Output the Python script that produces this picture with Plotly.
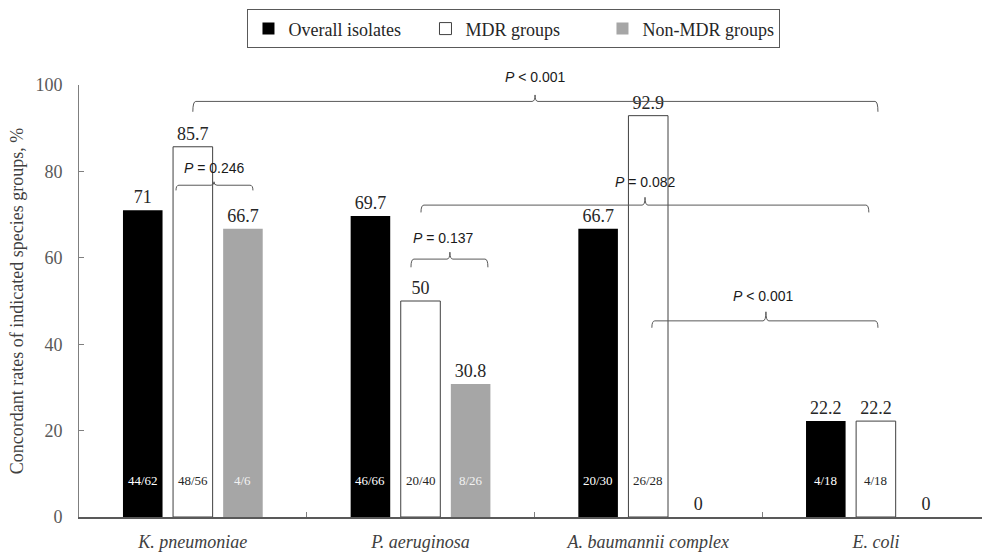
import plotly.graph_objects as go

categories = ["K. pneumoniae", "P. aeruginosa", "A. baumannii complex", "E. coli"]
overall = [71, 69.7, 66.7, 22.2]
mdr = [85.7, 50, 92.9, 22.2]
non_mdr = [66.7, 30.8, 0, 0]
overall_frac = ["44/62", "46/66", "20/30", "4/18"]
mdr_frac = ["48/56", "20/40", "26/28", "4/18"]
non_mdr_frac = ["4/6", "8/26", "", ""]
y_ticks = [0, 20, 40, 60, 80, 100]

# significance brackets: left, right, tip x, line y, end y, tip y, label, label x, label y
brackets = [
    dict(x0=0.0, x1=3.009, xt=1.503, y=96.2, ye=93.8, yt=97.7, label="<i>P</i> < 0.001", lx=1.503, ly=101.8),
    dict(x0=1.002, x1=2.969, xt=1.986, y=72.2, ye=70.5, yt=74.0, label="<i>P</i> = 0.082", lx=1.986, ly=77.6),
    dict(x0=-0.074, x1=0.264, xt=0.093, y=76.8, ye=75.6, yt=77.6, label="<i>P</i> = 0.246", lx=0.097, ly=80.9),
    dict(x0=0.958, x1=1.296, xt=1.129, y=59.7, ye=57.8, yt=61.3, label="<i>P</i> = 0.137", lx=1.099, ly=64.5),
    dict(x0=2.016, x1=3.009, xt=2.517, y=45.4, ye=43.8, yt=47.5, label="<i>P</i> < 0.001", lx=2.508, ly=51.2),
]

SERIF = "Liberation Serif"
SANS = "Liberation Sans"
x = list(range(len(categories)))
BARGAP = 0.34
slot = (1 - BARGAP) / 3


def fmt(v):
    return f"{v:g}"


fig = go.Figure()
series = [
    ("Overall isolates", overall, "#000000", "#000000", 0),
    ("MDR groups", mdr, "#ffffff", "#404040", 1),
    ("Non-MDR groups", non_mdr, "#a6a6a6", "#a6a6a6", 0),
]
for name, vals, fill, line, lw in series:
    fig.add_trace(go.Bar(
        x=x, y=vals, name=name,
        marker=dict(color=fill, line=dict(color=line, width=lw)),
        text=[fmt(v) for v in vals], textposition="outside",
        textfont=dict(family=SERIF, size=18, color="#262626"),
        constraintext="none", cliponaxis=False,
    ))

annotations = []
frac_sets = [(overall_frac, "#ffffff"), (mdr_frac, "#262626"), (non_mdr_frac, "#f2f2f2")]
for k, (fr, col) in enumerate(frac_sets):
    for i, t in enumerate(fr):
        if t:
            annotations.append(dict(
                x=i + (k - 1) * slot, y=8.5, xref="x", yref="y", text=t, showarrow=False,
                font=dict(family=SERIF, size=13, color=col), yanchor="middle"))

shapes = []
for b in brackets:
    dx = 0.013
    p = (f"M{b['x0']},{b['ye']} Q{b['x0']},{b['y']} {b['x0']+dx},{b['y']} "
         f"L{b['xt']-dx},{b['y']} Q{b['xt']},{b['y']} {b['xt']},{b['yt']} "
         f"Q{b['xt']},{b['y']} {b['xt']+dx},{b['y']} "
         f"L{b['x1']-dx},{b['y']} Q{b['x1']},{b['y']} {b['x1']},{b['ye']}")
    shapes.append(dict(type="path", path=p, xref="x", yref="y",
                       line=dict(color="#595959", width=1)))
    annotations.append(dict(x=b["lx"], y=b["ly"] / 100, xref="x", yref="paper", text=b["label"],
                            showarrow=False, font=dict(family=SANS, size=14, color="#1a1a1a"),
                            yanchor="middle"))

fig.update_layout(
    width=982, height=552,
    margin=dict(l=79, r=0, t=85, b=33),
    paper_bgcolor="white", plot_bgcolor="white",
    barmode="group", bargap=BARGAP, bargroupgap=0.21,
    showlegend=True,
    legend=dict(orientation="h", xref="container", yref="container",
                x=0.5234, xanchor="center", y=0.983, yanchor="top",
                bordercolor="#595959", borderwidth=1,
                entrywidth=132, entrywidthmode="pixels",
                font=dict(family=SERIF, size=18, color="#262626"),
                traceorder="normal"),
    shapes=shapes, annotations=annotations,
    xaxis=dict(range=[-0.5, 3.466], tickvals=x, ticktext=[f"<i>{c}</i>" for c in categories],
               ticks="", showgrid=False, zeroline=False,
               showline=True, linecolor="#595959", linewidth=1.5,
               tickfont=dict(family=SERIF, size=18, color="#404040"),
               ticklabelstandoff=8,
               minor=dict(tickvals=[0.5, 1.5, 2.5], ticks="inside", ticklen=5,
                          tickcolor="#7f7f7f", showgrid=False)),
    yaxis=dict(range=[0, 100], tickvals=y_ticks, ticks="inside", ticklen=5,
               tickcolor="#7f7f7f", showgrid=False, zeroline=False,
               showline=True, linecolor="#7f7f7f", linewidth=1,
               tickfont=dict(family=SERIF, size=18, color="#595959"),
               ticklabelstandoff=12,
               title=dict(text="Concordant rates of indicated species groups, %",
                          font=dict(family=SERIF, size=18, color="#404040"), standoff=7)),
)

fig.write_html("out.html", config={"displayModeBar": False},
               post_script="document.body.style.margin='0';document.body.style.overflow='hidden';")
